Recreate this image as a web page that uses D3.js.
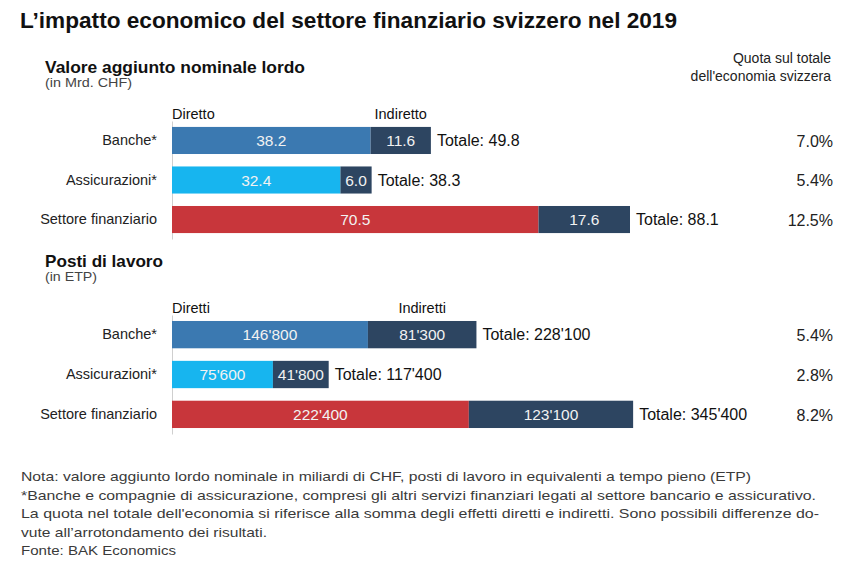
<!DOCTYPE html>
<html>
<head>
<meta charset="utf-8">
<script src="https://cdn.jsdelivr.net/npm/d3@7"></script>
<style>
  html, body { margin: 0; padding: 0; background: #fff; }
  svg { display: block; font-family: "Liberation Sans", Arial, sans-serif; }
</style>
</head>
<body>
<svg id="chart" width="849" height="566"></svg>
<script>
// ---------------- DATA ----------------
const categories = ["Banche*", "Assicurazioni*", "Settore finanziario"];

const vaDirect   = [38.2, 32.4, 70.5];
const vaIndirect = [11.6, 6.0, 17.6];
const vaTotal    = [49.8, 38.3, 88.1];
const vaShare    = ["7.0%", "5.4%", "12.5%"];

const jobsDirect   = [146800, 75600, 222400];
const jobsIndirect = [81300, 41800, 123100];
const jobsTotal    = [228100, 117400, 345400];
const jobsShare    = ["5.4%", "2.8%", "8.2%"];

const titleText = "L\u2019impatto economico del settore finanziario svizzero nel 2019";
const shareHeader = ["Quota sul totale", "dell'economia svizzera"];
const footnotes = [
  "Nota: valore aggiunto lordo nominale in miliardi di CHF, posti di lavoro in equivalenti a tempo pieno (ETP)",
  "*Banche e compagnie di assicurazione, compresi gli altri servizi finanziari legati al settore bancario e assicurativo.",
  "La quota nel totale dell'economia si riferisce alla somma degli effetti diretti e indiretti. Sono possibili differenze do-",
  "vute all\u2019arrotondamento dei risultati.",
  "Fonte: BAK Economics"
];

// ---------------- STYLE ----------------
const directColors = ["#3b79b1", "#17b5ef", "#c8363b"];
const indirectColor = "#2d4561";

const svg = d3.select("#chart");
svg.append("rect").attr("width", 849).attr("height", 566).attr("fill", "#fff");

function fit(sel, w) {
  return sel.attr("textLength", w).attr("lengthAdjust", "spacingAndGlyphs");
}

// Title
fit(svg.append("text").attr("x", 20).attr("y", 28)
  .attr("font-size", 22.5).attr("font-weight", "bold").attr("fill", "#111")
  .text(titleText), 657);

// Share header
svg.append("g").selectAll("text").data(shareHeader).join("text")
  .attr("x", 831).attr("y", (d, i) => 63 + i * 18)
  .attr("text-anchor", "end").attr("font-size", 14).attr("fill", "#222")
  .text(d => d);

const ch = d3.formatLocale({decimal: ".", thousands: "'", grouping: [3], currency: ["", ""]});
const fmtJobs = ch.format(",d");
const fmtVa = d3.format(".1f");

function panel(opts) {
  const {heading, sub, dirLabel, indLabel, direct, indirect, total, share, fmt, yRange, xMax, xEnd, hw, sw} = opts;
  const x = d3.scaleLinear().domain([0, xMax]).range([172, xEnd]);
  const y = d3.scaleBand().domain(categories).range(yRange).paddingInner(0.315).paddingOuter(0.15);
  const top = y(categories[0]);
  const g = svg.append("g");

  fit(g.append("text").attr("x", 45).attr("y", top - 54)
    .attr("font-size", 16.5).attr("font-weight", "bold").attr("fill", "#111").text(heading), hw);
  fit(g.append("text").attr("x", 45).attr("y", top - 40)
    .attr("font-size", 12.5).attr("fill", "#444").text(sub), sw);

  // axis with category labels
  const ax = g.append("g").attr("transform", "translate(172,0)")
    .call(d3.axisLeft(y).tickSize(0).tickPadding(15));
  ax.select(".domain").attr("stroke", "#cfcfcf").attr("stroke-width", 1);
  ax.selectAll("text").attr("font-size", 14.5).attr("fill", "#222")
    .attr("font-family", "'Liberation Sans', Arial, sans-serif");

  const rows = categories.map((c, i) => ({c, i, d: direct[i], n: indirect[i], t: total[i], s: share[i]}));

  // bars
  g.selectAll("rect.dir").data(rows).join("rect").attr("class", "dir")
    .attr("x", x(0)).attr("y", r => y(r.c))
    .attr("width", r => x(r.d) - x(0)).attr("height", y.bandwidth())
    .attr("fill", r => directColors[r.i]);
  g.selectAll("rect.ind").data(rows).join("rect").attr("class", "ind")
    .attr("x", r => x(r.d)).attr("y", r => y(r.c))
    .attr("width", r => x(r.d + r.n) - x(r.d)).attr("height", y.bandwidth())
    .attr("fill", indirectColor);

  const mid = r => y(r.c) + y.bandwidth() / 2;
  g.selectAll("text.dv").data(rows).join("text").attr("class", "dv")
    .attr("x", r => (x(0) + x(r.d)) / 2).attr("y", mid).attr("dy", "0.36em")
    .attr("text-anchor", "middle").attr("font-size", 15.5).attr("fill", "#f2f2f2")
    .text(r => fmt(r.d));
  g.selectAll("text.iv").data(rows).join("text").attr("class", "iv")
    .attr("x", r => (x(r.d) + x(r.d + r.n)) / 2).attr("y", mid).attr("dy", "0.36em")
    .attr("text-anchor", "middle").attr("font-size", 15.5).attr("fill", "#f2f2f2")
    .text(r => fmt(r.n));
  g.selectAll("text.tv").data(rows).join("text").attr("class", "tv")
    .attr("x", r => x(r.d + r.n) + 6).attr("y", mid).attr("dy", "0.36em")
    .attr("font-size", 16).attr("fill", "#111")
    .text(r => "Totale: " + fmt(r.t));
  g.selectAll("text.sv").data(rows).join("text").attr("class", "sv")
    .attr("x", 833).attr("y", mid).attr("dy", "0.4em").attr("text-anchor", "end")
    .attr("font-size", 16).attr("fill", "#222")
    .text(r => r.s);

  // column labels
  g.append("text").attr("x", x(0)).attr("y", top - 8)
    .attr("font-size", 14.5).attr("fill", "#111").text(dirLabel);
  g.append("text").attr("x", (x(direct[0]) + x(direct[0] + indirect[0])) / 2).attr("y", top - 8)
    .attr("text-anchor", "middle").attr("font-size", 14.5).attr("fill", "#111").text(indLabel);
}

panel({
  heading: "Valore aggiunto nominale lordo", sub: "(in Mrd. CHF)",
  dirLabel: "Diretto", indLabel: "Indiretto",
  direct: vaDirect, indirect: vaIndirect, total: vaTotal, share: vaShare,
  fmt: fmtVa, yRange: [121, 239], xMax: d3.max(vaTotal), xEnd: 630, hw: 260, sw: 87
});
panel({
  heading: "Posti di lavoro", sub: "(in ETP)",
  dirLabel: "Diretti", indLabel: "Indiretti",
  direct: jobsDirect, indirect: jobsIndirect, total: jobsTotal, share: jobsShare,
  fmt: fmtJobs, yRange: [315, 434], xMax: d3.max(jobsTotal), xEnd: 633, hw: 118, sw: 52
});

// Footnotes
const fnWidths = [730, 795, 798, 246, 155];
const fnY = [481, 500, 518, 537, 555];
svg.append("g").selectAll("text").data(footnotes).join("text")
  .attr("x", 21).attr("y", (d, i) => fnY[i])
  .attr("font-size", 13.5).attr("fill", "#3a3a3a")
  .attr("textLength", (d, i) => fnWidths[i]).attr("lengthAdjust", "spacingAndGlyphs")
  .text(d => d);
</script>
</body>
</html>
